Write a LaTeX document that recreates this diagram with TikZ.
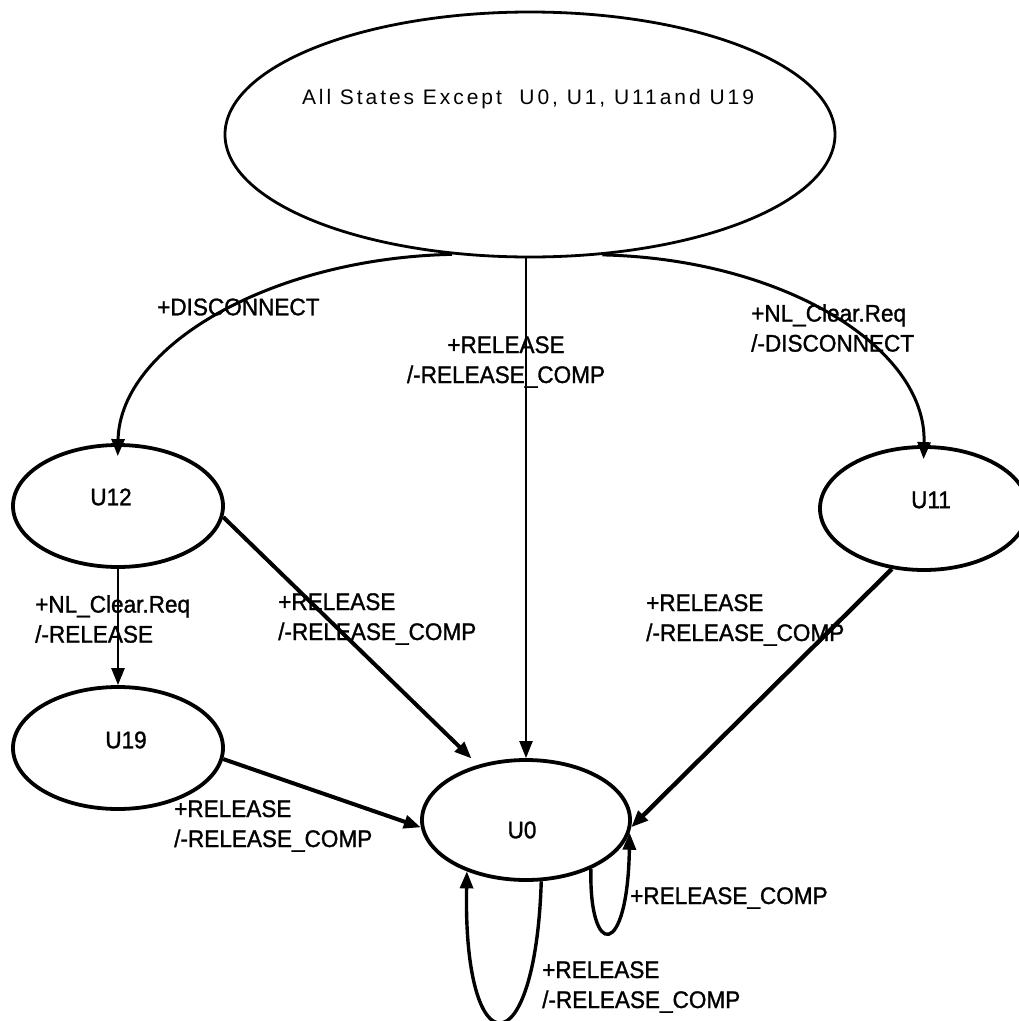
\documentclass[tikz,border=0pt]{standalone}
\usepackage{fontspec}
\setmainfont{Liberation Sans}
\newfontfamily\edgefont{Liberation Sans}[FakeStretch=0.94,FakeBold=1.2]
\newfontfamily\spacedfont{Liberation Sans}[LetterSpace=14]
\usetikzlibrary{shapes.geometric,arrows.meta}

\tikzset{
  state/.style={ellipse, draw, line width=3.8pt, inner sep=0pt},
  trans/.style={line width=3.4pt, -{Triangle[length=17pt,width=13pt]}},
  lbl/.style={inner sep=0pt, font=\edgefont\fontsize{24}{30}\selectfont, align=left, anchor=west},
  stname/.style={inner sep=0pt, font=\edgefont\fontsize{24}{28}\selectfont},
}

\begin{document}
\begin{tikzpicture}[x=1pt,y=-1pt]
\useasboundingbox (0,0) rectangle (1019,1021);
\clip (0,0) rectangle (1019,1021);

% states
\node[state, line width=2.8pt, minimum width=610pt, minimum height=245pt] (top) at (530,134.5) {};
\node[inner sep=0pt, font=\spacedfont\fontsize{21}{25}\selectfont] (toptext) at (528,99)
  {All States Except~ U0, U1, U11and U19};

\node[state, minimum width=210pt, minimum height=122pt] (u12) at (118,506) {};
\node[stname] (u12t) at (111,497) {U12};

\node[state, minimum width=210pt, minimum height=122pt] (u19) at (118,748) {};
\node[stname] (u19t) at (126,740) {U19};

\node[state, minimum width=208pt, minimum height=123pt] (u11) at (924,508.5) {};
\node[stname] (u11t) at (931,500) {U11};

\node[state, minimum width=208pt, minimum height=120pt] (u0) at (526,820) {};
\node[stname] (u0t) at (522,830) {U0};

% transitions
\draw[trans, line width=3pt, shorten >=-13pt] (top.237) .. controls +(-182,4) and +(2,-97) .. (u12.north);
\draw[trans, line width=3pt, shorten >=-14pt] (top.-59) .. controls +(180,4) and +(3,-98) .. (u11.north);
\draw[trans, line width=2.2pt] (top.south -| u0.north) -- (u0.north);
\draw[trans, line width=2.6pt] (u12.south) -- (u19.north);
\draw[trans, line width=4pt, shorten >=9pt] (u12.-6) -- (u0.131);
\draw[trans, line width=4.4pt] (u11.-118) -- (u0.-4);
\draw[trans, line width=4pt] (u19.-6) -- (u0.184);
\draw[trans] (u0.-37) .. controls +(-2,90) and +(-2,127) .. (u0.-7);
\draw[trans] (u0.-76) .. controls +(-6,188) and +(-4,198) .. (u0.-139);

% transition labels
\node[lbl] (l1) at (157,307) {+DISCONNECT};
\node[lbl, align=center, anchor=center] (l2) at (506,362) {+RELEASE\\/-RELEASE\_COMP};
\node[lbl] (l3) at (751,328) {+NL\_Clear.Req\\/-DISCONNECT};
\node[lbl] (l4) at (35,619) {+NL\_Clear.Req\\/-RELEASE};
\node[lbl] (l5) at (278,619) {+RELEASE\\/-RELEASE\_COMP};
\node[lbl] (l6) at (646,620) {+RELEASE\\/-RELEASE\_COMP};
\node[lbl] (l7) at (174,826) {+RELEASE\\/-RELEASE\_COMP};
\node[lbl] (l8) at (630,898) {+RELEASE\_COMP};
\node[lbl] (l9) at (542,987) {+RELEASE\\/-RELEASE\_COMP};
\end{tikzpicture}
\end{document}
